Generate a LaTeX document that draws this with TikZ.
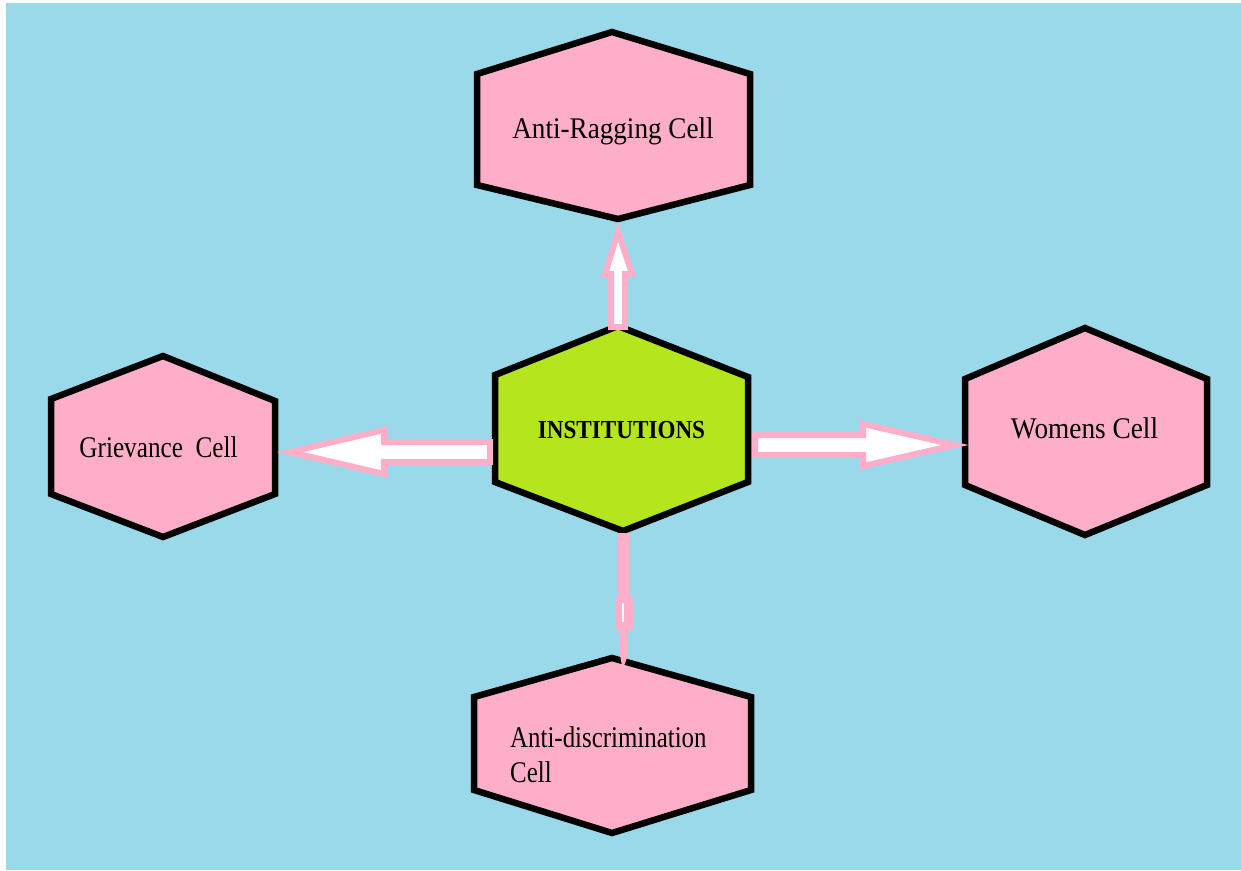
\documentclass[tikz,border=0pt]{standalone}
\usepackage{fontspec}
\setmainfont{Liberation Serif}
\usetikzlibrary{calc}
\definecolor{bgblue}{RGB}{153,217,234}
\definecolor{cellpink}{RGB}{255,174,201}
\definecolor{limegreen}{RGB}{181,230,29}
\newcommand\sqz[2][0.88]{\scalebox{#1}[1]{#2}}
\tikzset{
  hexb/.style={draw=black, line width=6.5pt, line join=miter},
  barrow/.style={draw=cellpink, fill=white, line width=6pt, line join=miter, miter limit=20},
  lbl/.style={inner sep=0pt, text=black, font=\fontsize{30}{35}\selectfont},
}
\begin{document}
\begin{tikzpicture}[x=1pt,y=-1pt]
\useasboundingbox (0,0) rectangle (1241,870);
\fill[white] (0,0) rectangle (1241,870);
\fill[bgblue] (6,3) rectangle (1241,870);

% hexagons
\draw[hexb, fill=cellpink] (612,32) -- (750,74) -- (750,185) -- (618,219) -- (477,185) -- (477,74) -- cycle;
\draw[hexb, fill=limegreen] (618,326) -- (748,377) -- (748,482) -- (623,531) -- (495,482) -- (495,375) -- cycle;
\draw[hexb, fill=cellpink] (163,356) -- (275,401) -- (275,494) -- (163,537) -- (51,494) -- (51,399) -- cycle;
\draw[hexb, fill=cellpink] (1085,328) -- (1207,379) -- (1207,485) -- (1085,535) -- (965,485) -- (965,379) -- cycle;
\draw[hexb, fill=cellpink] (612,658) -- (751,697) -- (751,790) -- (612,833) -- (474,790) -- (474,697) -- cycle;

% text nodes
\node[lbl, anchor=base] (ar) at (613,138) {\sqz[0.905]{Anti-Ragging Cell}};
\node[lbl, anchor=base, font=\fontsize{26}{30}\selectfont\bfseries] (inst) at (621.5,438) {\scalebox{0.89}[1]{INSTITUTIONS}};
\node[lbl, anchor=base] (grv) at (158.5,457) {\sqz[0.84]{Grievance\ \ Cell}};
\node[lbl, anchor=base] (wom) at (1084.5,438) {\sqz[0.91]{Womens Cell}};
\node[lbl, anchor=west, align=left] (adc) at (510,755) {\sqz[0.83]{Anti-discrimination}\\\sqz[0.83]{Cell}};

% arrow end points
\coordinate (uS) at (618,327);  \coordinate (uT) at (618,232);
\coordinate (lS) at (490,452);  \coordinate (lT) at (290,452);
\coordinate (rS) at (755,445);  \coordinate (rT) at (955,445);
\coordinate (dS) at (624,533);  \coordinate (dT) at (623,666);

% up arrow
\draw[barrow] ($(uS)+(-7,0)$) -- ($(uS)+(-7,-53)$) -- ($(uS)+(-13,-53)$) -- (uT)
  -- ($(uS)+(14,-53)$) -- ($(uS)+(7,-53)$) -- ($(uS)+(7,0)$) -- cycle;
% left arrow
\draw[barrow] ($(lS)+(0,-10)$) -- ($(lS)+(-106,-10)$) -- ($(lS)+(-106,-22)$) -- (lT)
  -- ($(lS)+(-106,22)$) -- ($(lS)+(-106,10)$) -- ($(lS)+(0,10)$) -- cycle;
% right arrow
\draw[barrow] ($(rS)+(0,-10)$) -- ($(rS)+(108,-10)$) -- ($(rS)+(108,-21)$) -- (rT)
  -- ($(rS)+(108,21)$) -- ($(rS)+(108,10)$) -- ($(rS)+(0,10)$) -- cycle;
% down arrow (degenerate, mostly pink)
\fill[cellpink] ($(dS)+(-6,0)$) -- ($(dS)+(6,0)$) -- ($(dS)+(6,64)$) -- ($(dS)+(9,64)$)
  -- ($(dS)+(9,97)$) -- ($(dS)+(4,97)$) -- ($(dS)+(4,122)$) -- ($(dT)+(1,0)$)
  -- ($(dT)+(-1,0)$) -- ($(dS)+(-4,122)$) -- ($(dS)+(-4,97)$) -- ($(dS)+(-8,97)$)
  -- ($(dS)+(-8,64)$) -- ($(dS)+(-6,64)$) -- cycle;
\draw[white, line width=2pt] ($(dS)+(-1,70)$) -- ($(dS)+(-1,89)$);
\end{tikzpicture}
\end{document}
